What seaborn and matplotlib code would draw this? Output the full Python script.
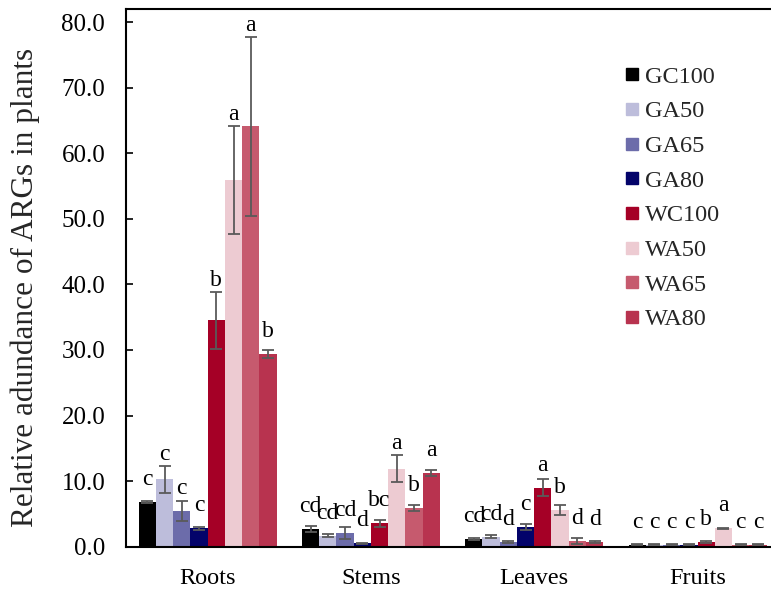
import numpy as np
import pandas as pd
import matplotlib
matplotlib.use("Agg")
import matplotlib.pyplot as plt
from matplotlib.lines import Line2D
import seaborn as sns

# Plant tissues and treatments
tissues = ["Roots", "Stems", "Leaves", "Fruits"]
treatments = ["GC100", "GA50", "GA65", "GA80", "WC100", "WA50", "WA65", "WA80"]

# Mean relative abundance per treatment (order follows tissues)
gc100 = [6.85, 2.70, 1.21, 0.30]
ga50 = [10.25, 1.67, 1.52, 0.32]
ga65 = [5.40, 2.05, 0.76, 0.30]
ga80 = [2.80, 0.50, 3.03, 0.28]
wc100 = [34.5, 3.55, 9.00, 0.76]
wa50 = [55.9, 11.9, 5.57, 2.80]
wa65 = [64.1, 5.92, 0.85, 0.32]
wa80 = [29.4, 11.2, 0.70, 0.28]

# Standard errors
gc100_err = [0.15, 0.45, 0.15, 0.08]
ga50_err = [2.00, 0.20, 0.20, 0.08]
ga65_err = [1.50, 0.90, 0.15, 0.08]
ga80_err = [0.25, 0.10, 0.45, 0.08]
wc100_err = [4.40, 0.50, 1.30, 0.15]
wa50_err = [8.20, 2.10, 0.75, 0.10]
wa65_err = [13.6, 0.40, 0.45, 0.08]
wa80_err = [0.60, 0.45, 0.10, 0.08]

# Significance letters
gc100_sig = ["c", "cd", "cd", "c"]
ga50_sig = ["c", "cd", "cd", "c"]
ga65_sig = ["c", "cd", "d", "c"]
ga80_sig = ["c", "d", "c", "c"]
wc100_sig = ["b", "bc", "a", "b"]
wa50_sig = ["a", "a", "b", "a"]
wa65_sig = ["a", "b", "d", "c"]
wa80_sig = ["b", "a", "d", "c"]

colors = ["#000000", "#BDBDDB", "#6C6CAA", "#03036A",
          "#A50026", "#EDCBD2", "#C65A6E", "#B8334F"]

means = [gc100, ga50, ga65, ga80, wc100, wa50, wa65, wa80]
errs = [gc100_err, ga50_err, ga65_err, ga80_err, wc100_err, wa50_err, wa65_err, wa80_err]
sigs = [gc100_sig, ga50_sig, ga65_sig, ga80_sig, wc100_sig, wa50_sig, wa65_sig, wa80_sig]

rows = []
for t, m in zip(treatments, means):
    for tissue, v in zip(tissues, m):
        rows.append({"tissue": tissue, "treatment": t, "value": v})
df = pd.DataFrame(rows)

sns.set_theme(style="ticks")
plt.rcParams["font.family"] = ["Liberation Serif", "DejaVu Serif"]

fig = plt.figure(figsize=(7.71, 5.92), dpi=100)
ax = fig.add_axes([0.1634, 0.0765, 0.8366, 0.9083])

sns.barplot(data=df, x="tissue", y="value", hue="treatment",
            order=tissues, hue_order=treatments, palette=colors,
            errorbar=None, width=0.845, saturation=1, legend=False,
            linewidth=0, ax=ax)

ymax = 82
ax.set_ylim(0, ymax)
# letters sit a fixed distance above the bar, or just above the error cap
px_per_unit = (0.9083 * 592) / ymax
above_bar = 17 / px_per_unit
above_cap = 6 / px_per_unit

for cont, err, sig in zip(ax.containers, errs, sigs):
    xs = [b.get_x() + b.get_width() / 2 for b in cont]
    hs = [b.get_height() for b in cont]
    ax.errorbar(xs, hs, yerr=err, fmt="none", ecolor="#5a5a5a",
                elinewidth=1.3, capsize=4.3, capthick=1.3, zorder=3)
    for x, h, e, s in zip(xs, hs, err, sig):
        y = max(h + above_bar, h + e + above_cap)
        ax.text(x, y, s, ha="center", va="baseline",
                fontsize=17, color="black")

ax.set_xlim(-0.5, 3.45)
ax.set_yticks(np.arange(0, 81, 10))
ax.set_yticklabels([f"{v:.1f}" for v in np.arange(0, 81, 10)])
ax.tick_params(axis="y", direction="in", length=5, width=1.2,
               labelsize=18, pad=15, colors="black")
ax.tick_params(axis="x", length=0, labelsize=17.5, pad=15, colors="black")
ax.set_xlabel("")
ax.set_ylabel("Relative adundance of ARGs in plants", fontsize=22.5)
ax.yaxis.set_label_coords(-0.134, 0.482)

for side in ["left", "bottom", "top"]:
    ax.spines[side].set_color("black")
    ax.spines[side].set_linewidth(1.5)
ax.spines["right"].set_visible(False)

handles = [Line2D([0], [0], marker="s", linestyle="none", markersize=9,
                  markerfacecolor=c, markeredgecolor=c) for c in colors]
ax.legend(handles, treatments, loc="upper left", bbox_to_anchor=(0.752, 0.917),
          frameon=False, fontsize=17.5, handlelength=0.7, handletextpad=0.2,
          labelspacing=0.52, borderpad=0)

fig.savefig("out.png", dpi=100)
